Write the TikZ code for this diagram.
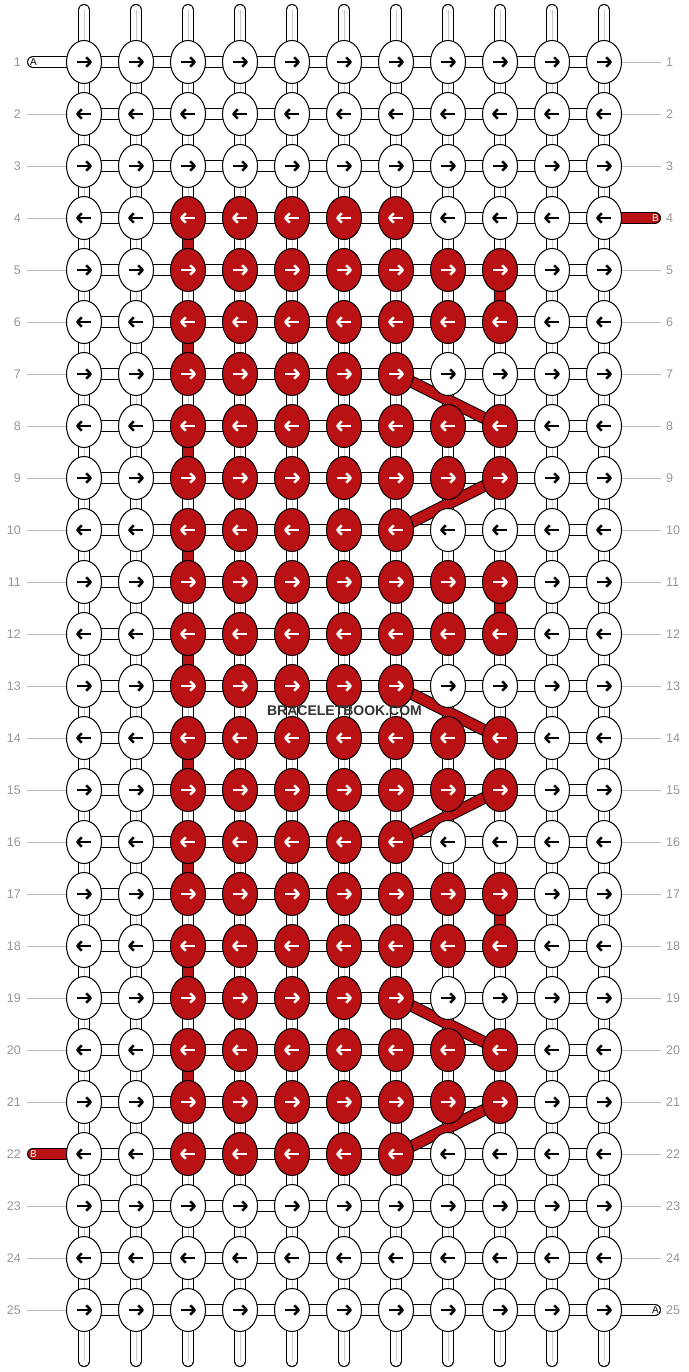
\documentclass[tikz,border=0pt]{standalone}
\usepackage{fontspec}
\setmainfont{Liberation Sans}
\usetikzlibrary{shapes.geometric}
\definecolor{knotred}{RGB}{186,18,20}
\definecolor{lblgray}{RGB}{150,150,150}
\definecolor{linegray}{RGB}{190,190,190}
\definecolor{midgray}{RGB}{200,200,200}
\definecolor{wmgray}{RGB}{51,51,51}
\begin{document}
\begin{tikzpicture}[x=1pt,y=-1pt,
  thread/.style={draw=white,line width=10pt,preaction={draw=black,line width=12pt}},
  capthread/.style={draw=white,line width=10pt,line cap=round,preaction={draw=black,line width=12pt,line cap=round}},
  redthread/.style={draw=knotred,line width=10pt,preaction={draw=black,line width=12pt}},
  capredthread/.style={draw=knotred,line width=10pt,line cap=round,preaction={draw=black,line width=12pt,line cap=round}},
  centreline/.style={draw=midgray,line width=1pt},
  rowline/.style={draw=linegray,line width=1pt},
  knot/.style={ellipse,draw=black,line width=1pt,fill=white,minimum width=35pt,minimum height=43pt,inner sep=0pt},
  redknot/.style={knot,fill=knotred},
  shaft/.style={line width=2.6pt},
  head/.style={line width=2.5pt,line join=round},
  rownum/.style={font=\fontsize{12.5}{12.5}\selectfont,text=lblgray,inner sep=0pt},
  endlbl/.style={font=\fontsize{10}{10}\selectfont,inner sep=0pt}]
\useasboundingbox (0,0) rectangle (688,1372);
% grid positions
\foreach \r in {1,...,25}{
  \foreach \c in {1,...,11}{
    \coordinate (p-\r-\c) at ({84+52*(\c-1)},{62+52*(\r-1)});
  }
}
% vertical threads
\foreach \c in {1,...,11}{
  \coordinate (top-\c) at ({84+52*(\c-1)},10);
  \coordinate (bot-\c) at ({84+52*(\c-1)},1361);
  \draw[capthread] (top-\c) -- (bot-\c);
  \draw[centreline] ([xshift=0.5pt]top-\c) -- ([xshift=0.5pt]bot-\c);
}
% red vertical segments
\foreach \r in {4,6,...,20}{
  \pgfmathtruncatemacro\rr{\r+1}
  \draw[redthread] (p-\r-3) -- (p-\rr-3);
}
\foreach \r in {5,11,17}{
  \pgfmathtruncatemacro\rr{\r+1}
  \draw[redthread] (p-\r-9) -- (p-\rr-9);
}
% horizontal threads
\foreach \r in {1,...,25}{
  \draw[thread] (p-\r-1) -- (p-\r-11);
}
% row guide lines
\foreach \r in {2,...,21,23,24,25}{
  \coordinate (ll-\r) at (27,{62.5+52*(\r-1)});
  \draw[rowline] (ll-\r) -- ([yshift=-0.5pt]p-\r-1);
}
\foreach \r in {1,2,3,5,6,...,24}{
  \coordinate (rl-\r) at (661,{62.5+52*(\r-1)});
  \draw[rowline] ([yshift=-0.5pt]p-\r-11) -- (rl-\r);
}
% edge threads
\coordinate (eA) at (33,62);
\coordinate (eB) at (33,1154);
\coordinate (fB) at (655,218);
\coordinate (fA) at (655,1310);
\draw[capthread] (eA) -- (p-1-1);
\draw[capredthread] (eB) -- (p-22-1);
\draw[capredthread] (p-4-11) -- (fB);
\draw[capthread] (p-25-11) -- (fA);
% diagonal red strands
\draw[redthread] (p-7-7) -- (p-8-9);
\draw[redthread] (p-9-9) -- (p-10-7);
\draw[redthread] (p-13-7) -- (p-14-9);
\draw[redthread] (p-15-9) -- (p-16-7);
\draw[redthread] (p-19-7) -- (p-20-9);
\draw[redthread] (p-21-9) -- (p-22-7);
% knots and arrows
\foreach \r in {1,...,25}{
  \foreach \c in {1,...,11}{
    \pgfmathtruncatemacro\isred{(\r>=4)&&(\r<=22)&&(\c>=3)&&((\c<=7)||((\c<=9)&&(mod(\r-4,3)!=0)))}
    \pgfmathtruncatemacro\odd{mod(\r,2)}
    \ifnum\isred=1
      \node[redknot] (k-\r-\c) at (p-\r-\c) {};
      \def\ac{white}
    \else
      \node[knot] (k-\r-\c) at (p-\r-\c) {};
      \def\ac{black}
    \fi
    \ifnum\odd=1 \def\dir{1}\else\def\dir{-1}\fi
    \begin{scope}[shift={(k-\r-\c.center)},xscale=\dir]
      \draw[shaft,draw=\ac] (-7.3,0) -- (5.8,0);
      \draw[head,draw=\ac] (2.2,-4.7) -- (6.7,0) -- (2.2,4.7);
    \end{scope}
  }
}
% row numbers
\foreach \r in {1,...,25}{
  \node[rownum,anchor=east] (nl-\r) at (21,{62+52*(\r-1)}) {\r};
  \node[rownum,anchor=west] (nr-\r) at (666,{62+52*(\r-1)}) {\r};
}
% end labels
\node[endlbl,anchor=west,text=black] (lA) at (30,62.5) {A};
\node[endlbl,anchor=west,text=white] (lB) at (30,1154.5) {B};
\node[endlbl,anchor=east,text=white] (rB) at (659,218.5) {B};
\node[endlbl,anchor=east,text=black] (rA) at (659,1310.5) {A};
% watermark
\node[font=\bfseries\fontsize{14}{14}\selectfont,text=wmgray,inner sep=0pt] (wm) at (344.5,711) {BRACELETBOOK.COM};
\end{tikzpicture}
\end{document}
